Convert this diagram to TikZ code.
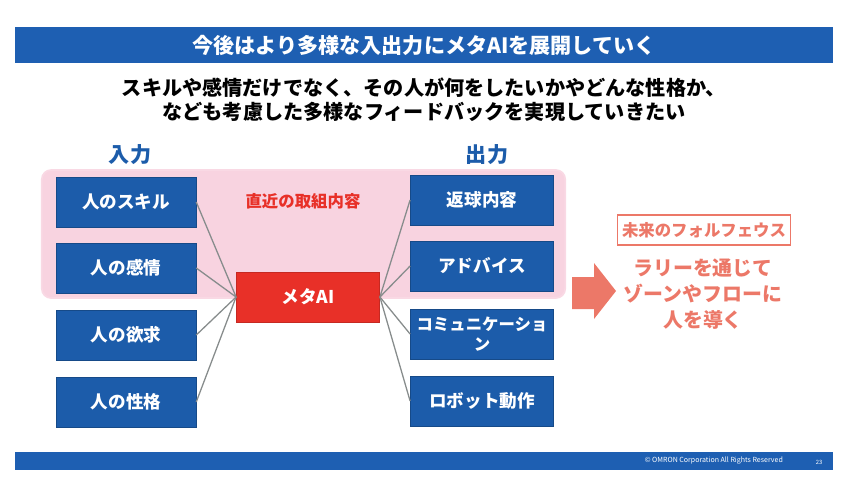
\documentclass[tikz,border=0pt]{standalone}
\usepackage{fontspec}
\setmainfont{Noto Sans CJK JP}
\definecolor{barblue}{RGB}{30,95,178}
\definecolor{boxblue}{RGB}{28,92,170}
\definecolor{metared}{RGB}{232,48,40}
\definecolor{pinkbg}{RGB}{246,200,216}
\definecolor{salmon}{RGB}{236,120,104}
\definecolor{linegray}{RGB}{135,140,140}
\tikzset{
  inbox/.style={
    fill = boxblue,
    draw = boxblue!80!black,
    text = white,
    font = \bfseries\fontsize{15}{17}\selectfont,
    minimum width = 4.2cm,
    minimum height = 1.5cm,
    align = center,
    inner sep = 1pt
  },
  outbox/.style={
    inbox,
    minimum width = 4.3cm
  },
  aibox/.style={
    inbox,
    fill = metared,
    draw = metared!85!black,
    minimum width = 4.3cm
  },
  link/.style={
    draw = linegray,
    line width = 1.1pt
  },
  headline/.style={
    text = boxblue,
    font = \bfseries\fontsize{18}{20}\selectfont
  },
  future/.style={
    text = salmon,
    font = \bfseries\fontsize{17}{22}\selectfont,
    align = center
  }
}
\begin{document}
\begin{tikzpicture}[x=0.03cm,y=-0.03cm]
\useasboundingbox (0,0) rectangle (850,490);
% title and footer bars
\node[fill=barblue,minimum width=24.54cm,minimum height=1.1cm,text=white,
  font=\bfseries\fontsize{18}{20}\selectfont] (title) at (424,45) {今後はより多様な入出力にメタAIを展開していく};
\node[align=center,font=\bfseries\fontsize{17.2}{20.5}\selectfont] (sub) at (424,100)
  {スキルや感情だけでなく、その人が何をしたいかやどんな性格か、\\なども考慮した多様なフィードバックを実現していきたい};
\node[fill=barblue,minimum width=24.54cm,minimum height=0.54cm] (foot) at (424,461) {};
\node[text=white,font=\fontsize{6}{7}\selectfont,anchor=east] (copy) at (787,461) {© OMRON Corporation All Rights Reserved};
\node[text=white,font=\fontsize{5}{6}\selectfont] (page) at (819,462) {23};
% recent work area
\node[fill=pinkbg,fill opacity=0.8,draw=pinkbg!70!white,line width=1.5pt,rounded corners=8pt,
  minimum width=15.7cm,minimum height=3.84cm] (recent) at (303.5,234) {};
\node[text=metared,font=\bfseries\fontsize{14}{16}\selectfont] (recentlbl) at (303,201) {直近の取組内容};
\node[headline] (inlbl) at (130,155) {入力};
\node[headline] (outlbl) at (487,155) {出力};
% inputs
\node[inbox] (skill) at (126,202) {人のスキル};
\node[inbox] (emotion) at (126,268) {人の感情};
\node[inbox] (desire) at (126,335) {人の欲求};
\node[inbox] (trait) at (126,402) {人の性格};
% meta AI
\node[aibox] (meta) at (308,297) {メタAI};
% outputs
\node[outbox] (ball) at (482,200) {返球内容};
\node[outbox] (advice) at (482,266) {アドバイス};
\node[outbox,font=\bfseries\fontsize{14}{17}\selectfont] (comm) at (482,334) {コミュニケーショ\\ン};
\node[outbox] (robot) at (482,401) {ロボット動作};
\foreach \n in {skill,emotion,desire,trait}{
  \draw[link] (\n.east) -- (meta.west);
}
\foreach \n in {ball,advice,comm,robot}{
  \draw[link] (meta.east) -- (\n.west);
}
% future
\fill[salmon] (572,277) -- (594,277) -- (594,263) -- (616,291) -- (594,319) -- (594,309) -- (572,309) -- cycle;
\node[draw=salmon,line width=1.2pt,text=salmon,fill=white,
  font=\bfseries\fontsize{14}{16}\selectfont,minimum height=0.9cm,inner xsep=4pt] (futurelbl) at (704,230) {未来のフォルフェウス};
\node[future] (goal) at (703,294) {ラリーを通じて\\ゾーンやフローに\\人を導く};
\end{tikzpicture}
\end{document}
